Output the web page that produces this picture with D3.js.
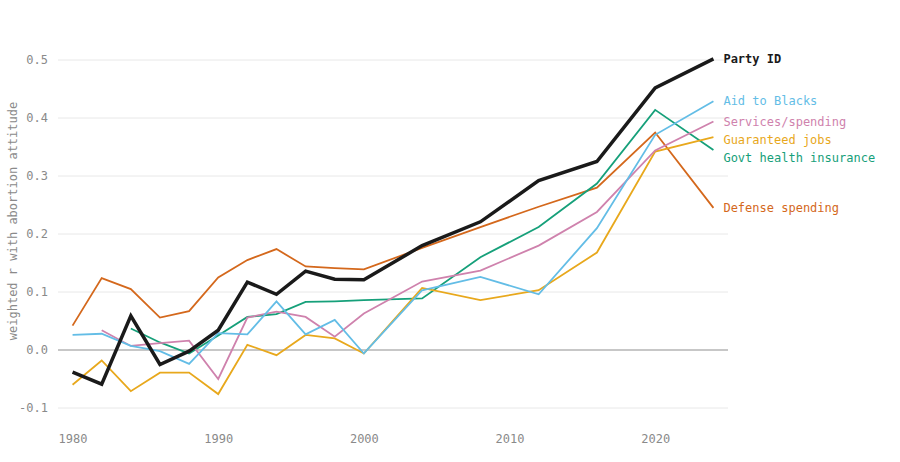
<!DOCTYPE html>
<html>
<head>
<meta charset="utf-8">
<script src="https://cdn.jsdelivr.net/npm/d3@7"></script>
<style>
  body { margin: 0; background: #fff; }
  svg text { font-family: "DejaVu Sans Mono", monospace; }
</style>
</head>
<body>
<div id="chart"></div>
<script>
// survey years
const years = [1980, 1982, 1984, 1986, 1988, 1990, 1992, 1994, 1996, 1998, 2000, 2004, 2008, 2012, 2016, 2020, 2024];

// weighted r with abortion attitude, per item (null = not asked)
const partyId      = [-0.038, -0.059, 0.059, -0.025, -0.002, 0.034, 0.117, 0.096, 0.136, 0.122, 0.121, 0.180, 0.221, 0.292, 0.325, 0.452, 0.502];
const aidToBlacks  = [0.026, 0.028, 0.007, -0.002, -0.024, 0.029, 0.027, 0.084, 0.027, 0.052, -0.006, 0.103, 0.126, 0.096, 0.210, 0.371, 0.429];
const services     = [null, 0.034, 0.007, 0.012, 0.016, -0.050, 0.056, 0.066, 0.057, 0.023, 0.063, 0.118, 0.137, 0.180, 0.238, 0.344, 0.394];
const guaranteed   = [-0.060, -0.018, -0.071, -0.039, -0.039, -0.076, 0.009, -0.009, 0.026, 0.020, -0.006, 0.107, 0.086, 0.103, 0.168, 0.342, 0.367];
const healthIns    = [null, null, 0.037, 0.013, -0.006, 0.025, 0.057, 0.062, 0.083, 0.084, 0.086, 0.089, 0.160, 0.212, 0.287, 0.414, 0.345];
const defense      = [0.042, 0.124, 0.105, 0.056, 0.067, 0.125, 0.155, 0.174, 0.144, 0.141, 0.139, 0.176, 0.212, 0.247, 0.280, 0.375, 0.245];

const seriesNames = ["Party ID", "Aid to Blacks", "Services/spending", "Guaranteed jobs", "Govt health insurance", "Defense spending"];
const seriesValues = [partyId, aidToBlacks, services, guaranteed, healthIns, defense];
const yTicks = [-0.1, 0, 0.1, 0.2, 0.3, 0.4, 0.5];
const xTicks = [1980, 1990, 2000, 2010, 2020];

const width = 900, height = 462;
const margin = { top: 60, right: 172, bottom: 54, left: 58 };

const color = d3.scaleOrdinal()
  .domain(seriesNames)
  .range(["#1a1a1a", "#63bde6", "#cf82ad", "#e8a81c", "#16a07a", "#d4681c"]);

const series = seriesNames.map((name, i) => ({
  name,
  values: years.map((yr, j) => ({ year: yr, v: seriesValues[i][j] }))
}));

const svg = d3.select("#chart").append("svg")
  .attr("width", width)
  .attr("height", height);

const x = d3.scaleLinear()
  .domain([1979, 2025])
  .range([margin.left, width - margin.right]);

const y = d3.scaleLinear()
  .domain([-0.1, 0.5])
  .range([height - margin.bottom, margin.top]);

// gridlines
svg.append("g")
  .selectAll("line")
  .data(yTicks)
  .join("line")
  .attr("x1", margin.left)
  .attr("x2", width - margin.right)
  .attr("y1", d => y(d))
  .attr("y2", d => y(d))
  .attr("stroke", d => d === 0 ? "#b5b5b5" : "#e8e8e8")
  .attr("stroke-width", d => d === 0 ? 1.3 : 1);

// y axis
const yAxis = svg.append("g")
  .attr("transform", `translate(${margin.left},0)`)
  .call(d3.axisLeft(y).tickValues(yTicks).tickFormat(d3.format(".1f")).tickSize(0).tickPadding(10));
yAxis.select(".domain").remove();
yAxis.selectAll("text")
  .attr("fill", "#8a8a8a")
  .style("font-size", "12px")
  .text(d => d3.format(".1f")(d).replace("−", "-"));

// x axis
const xAxis = svg.append("g")
  .attr("transform", `translate(0,${height - margin.bottom + 20})`)
  .call(d3.axisBottom(x).tickValues(xTicks).tickFormat(d3.format("d")).tickSize(0).tickPadding(6));
xAxis.select(".domain").remove();
xAxis.selectAll("text")
  .attr("fill", "#8a8a8a")
  .style("font-size", "12px");

// y axis title
svg.append("text")
  .attr("transform", `translate(17,221) rotate(-90)`)
  .attr("text-anchor", "middle")
  .attr("fill", "#8a8a8a")
  .style("font-size", "12px")
  .text("weighted r with abortion attitude");

const line = d3.line()
  .defined(d => d.v !== null)
  .x(d => x(d.year))
  .y(d => y(d.v));

// draw coloured lines first, party ID on top
svg.append("g")
  .selectAll("path")
  .data(series.slice().reverse())
  .join("path")
  .attr("fill", "none")
  .attr("stroke", d => color(d.name))
  .attr("stroke-width", d => d.name === "Party ID" ? 3.5 : 1.8)
  .attr("stroke-linejoin", "miter")
  .attr("d", d => line(d.values));

// end labels, pushed apart so they don't overlap
const labels = series.map(s => {
  const last = s.values[s.values.length - 1];
  return { name: s.name, ly: y(last.v), lx: x(last.year) };
}).sort((a, b) => a.ly - b.ly);

const gap = 18;
for (let i = 1; i < labels.length; i++) {
  if (labels[i].ly - labels[i - 1].ly < gap) labels[i].ly = labels[i - 1].ly + gap;
}

svg.append("g")
  .selectAll("text")
  .data(labels)
  .join("text")
  .attr("x", d => d.lx + 10)
  .attr("y", d => d.ly)
  .attr("dy", "0.35em")
  .attr("fill", d => color(d.name))
  .style("font-size", "12px")
  .style("font-weight", d => d.name === "Party ID" ? "bold" : "normal")
  .text(d => d.name);
</script>
</body>
</html>
